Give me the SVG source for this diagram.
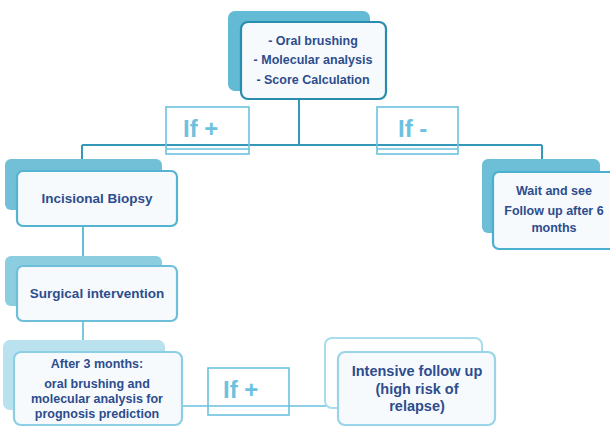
<svg xmlns="http://www.w3.org/2000/svg" width="610" height="427" viewBox="0 0 610 427">
<style>
.t{font-family:"Liberation Sans",Arial,sans-serif;font-weight:bold;fill:#2d4d8d;text-anchor:middle}
.s{font-size:12.5px}
.m{font-size:13.5px}
.l{font-size:14.5px}
.ift{font-family:"Liberation Sans",Arial,sans-serif;font-weight:bold;font-size:24px;fill:#6cc2de}
.ifb{fill:none;stroke:#6cc2de;stroke-width:1.6}
.front{fill:#f7fafd;stroke-width:2.2}
</style>
<rect width="610" height="427" fill="#ffffff"/>
<g id="connectors" fill="none" stroke-width="2">
<path d="M299 99 V145 M82 145 H542 M82 145 V159 M542 145 V159" stroke="#3598b9"/>
<path d="M83 226 V257" stroke="#67bcd8"/>
<path d="M83 321 V340" stroke="#7cc7e0"/>
<path d="M182 406 H326" stroke="#8dd0e6"/>
</g>
<g id="if-plus-top">
<rect class="ifb" x="166" y="107" width="83" height="47"/>
<line class="ifb" x1="166" y1="149" x2="249" y2="149"/>
<text class="ift" x="183" y="137">If +</text>
</g>
<g id="if-minus">
<rect class="ifb" x="377" y="107" width="81" height="47"/>
<line class="ifb" x1="377" y1="149" x2="458" y2="149"/>
<text class="ift" x="398" y="137">If -</text>
</g>
<g id="if-plus-bottom">
<rect class="ifb" x="208" y="368" width="81" height="47"/>
<text class="ift" x="223" y="398">If +</text>
</g>
<g id="top">
<rect x="228" y="11" width="142" height="80" rx="7" fill="#62bad4"/>
<rect class="front" x="241" y="22" width="145" height="77" rx="7" stroke="#2a8cad"/>
<text class="t s" x="313" y="45">- Oral brushing</text>
<text class="t s" x="313" y="64">- Molecular analysis</text>
<text class="t s" x="313" y="84">- Score Calculation</text>
</g>
<g id="incisional">
<rect x="5" y="159" width="157" height="51" rx="6" fill="#72c0d8"/>
<rect class="front" x="17" y="171" width="160" height="55" rx="6" stroke="#55b3d2"/>
<text class="t m" x="97" y="203">Incisional Biopsy</text>
</g>
<g id="wait">
<rect x="482" y="159" width="118" height="74" rx="6" fill="#6dbed7"/>
<rect class="front" x="493" y="172" width="124" height="77" rx="6" stroke="#4aafd0"/>
<text class="t s" x="554" y="195">Wait and see</text>
<text class="t s" x="554" y="215">Follow up after 6</text>
<text class="t s" x="554" y="232">months</text>
</g>
<g id="surgical">
<rect x="5" y="256" width="157" height="50" rx="6" fill="#8dcde0"/>
<rect class="front" x="17" y="266" width="160" height="55" rx="6" stroke="#6cbedb"/>
<text class="t m" x="97" y="298">Surgical intervention</text>
</g>
<g id="after3">
<rect x="3" y="340" width="162" height="70" rx="7" fill="#b9e1ee"/>
<rect class="front" x="14" y="352" width="168" height="73" rx="7" stroke="#8ccfe5"/>
<text class="t s" x="97" y="368">After 3 months:</text>
<text class="t s" x="97" y="388">oral brushing and</text>
<text class="t s" x="97" y="403">molecular analysis for</text>
<text class="t s" x="97" y="418">prognosis prediction</text>
</g>
<g id="intensive">
<rect x="325" y="338" width="157" height="70" rx="7" fill="#ffffff" stroke="#a9dcec" stroke-width="2"/>
<rect class="front" x="338" y="352" width="157" height="73" rx="7" stroke="#99d4e8"/>
<text class="t l" x="417" y="376">Intensive follow up</text>
<text class="t l" x="417" y="394">(high risk of</text>
<text class="t l" x="417" y="411">relapse)</text>
</g>
</svg>
